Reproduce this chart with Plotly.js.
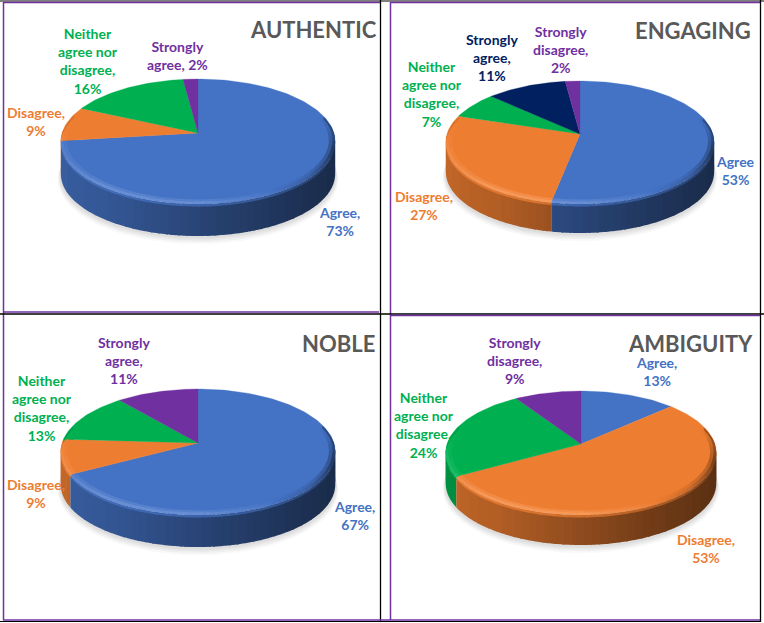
<!DOCTYPE html>
<html><head><meta charset="utf-8">
<script src="https://cdn.plot.ly/plotly-3.0.1.min.js"></script>
<style>html,body{margin:0;padding:0;background:#fff}#c{width:764px;height:623px}</style>
</head><body><div id="c"></div>
<script>
// ---- data ----
const panelTitles = ["AUTHENTIC", "ENGAGING", "NOBLE", "AMBIGUITY"];
const authenticCats = ["Agree", "Disagree", "Neither agree nor disagree", "Strongly agree"];
const authenticVals = [73, 9, 16, 2];
const engagingCats = ["Agree", "Disagree", "Neither agree nor disagree", "Strongly agree", "Strongly disagree"];
const engagingVals = [53, 27, 7, 11, 2];
const nobleCats = ["Agree", "Disagree", "Neither agree nor disagree", "Strongly agree"];
const nobleVals = [67, 9, 13, 11];
const ambiguityCats = ["Agree", "Disagree", "Neither agree nor disagree", "Strongly disagree"];
const ambiguityVals = [13, 53, 24, 9];

// ---- styles and layout, kept apart from the data ----
const authenticColors = ["#4472c4", "#ed7d31", "#00b050", "#7030a0"];
const engagingColors = ["#4472c4", "#ed7d31", "#00b050", "#002060", "#7030a0"];
const nobleColors = ["#4472c4", "#ed7d31", "#00b050", "#7030a0"];
const ambiguityColors = ["#4472c4", "#ed7d31", "#00b050", "#7030a0"];

const panels = [
  {cats: authenticCats, vals: authenticVals, cols: authenticColors, cx: 198, cy: 133, rx: 136, up: 54, down: 70, depth: 33, tx: 313, ty: 29,
   lx: [339, 36, 88, 177], ly: [221, 121, 61, 55],
   wrap: [["Agree,", "%"], ["Disagree,", "%"], ["Neither", "agree nor", "disagree,", "%"], ["Strongly", "agree, %"]]},
  {cats: engagingCats, vals: engagingVals, cols: engagingColors, cx: 580, cy: 134, rx: 133, up: 53, down: 69, depth: 30, tx: 693, ty: 30,
   lx: [735, 424, 432, 492, 560], ly: [170, 205, 94, 57, 49],
   wrap: [["Agree", "%"], ["Disagree,", "%"], ["Neither", "agree nor", "disagree,", "%"], ["Strongly", "agree,", "%"], ["Strongly", "disagree,", "%"]]},
  {cats: nobleCats, vals: nobleVals, cols: nobleColors, cx: 198, cy: 443, rx: 136, up: 54, down: 71, depth: 33, tx: 338, ty: 343,
   lx: [354, 36, 42, 124], ly: [515, 493, 408, 360],
   wrap: [["Agree,", "%"], ["Disagree,", "%"], ["Neither", "agree nor", "disagree,", "%"], ["Strongly", "agree,", "%"]]},
  {cats: ambiguityCats, vals: ambiguityVals, cols: ambiguityColors, cx: 581, cy: 444, rx: 134, up: 53, down: 70, depth: 31, tx: 690, ty: 343,
   lx: [656, 706, 424, 514], ly: [371, 548, 425, 360],
   wrap: [["Agree,", "%"], ["Disagree,", "%"], ["Neither", "agree nor", "disagree,", "%"], ["Strongly", "disagree,", "%"]]}
];

const FONT = "Lato, Carlito, 'Open Sans', sans-serif";
const STEP = Math.PI / 120;
const lerp = (a, b, t) => a + (b - a) * t;
const clamp = (v, a, b) => Math.max(a, Math.min(b, v));
function pw(x, xs, ys) {
  for (let i = 1; i < xs.length; i++) if (x <= xs[i]) return lerp(ys[i - 1], ys[i], (x - xs[i - 1]) / (xs[i] - xs[i - 1]));
  return ys[ys.length - 1];
}
function rgb(h) { return [1, 3, 5].map(i => parseInt(h.substr(i, 2), 16)); }
function shade(h, f) {
  const c = rgb(h).map(v => f <= 1 ? v * f : v + (255 - v) * (f - 1) * 1.3 + v * (f - 1) * 0.2);
  return "rgb(" + c.map(v => Math.round(clamp(v, 0, 255))).join(",") + ")";
}
const q = f => Math.round(f * 80) / 80;

const traces = [];
function poly(group, color, pts) {
  if (!group[color]) group[color] = {x: [], y: []};
  pts.forEach(p => { group[color].x.push(p[0]); group[color].y.push(p[1]); });
  group[color].x.push(pts[0][0], null);
  group[color].y.push(pts[0][1], null);
}
function flush(group, width) {
  Object.keys(group).forEach(c => traces.push({
    type: "scatter", mode: "lines", x: group[c].x, y: group[c].y, fill: "toself", fillcolor: c,
    line: {color: c, width: width}, hoverinfo: "skip", showlegend: false
  }));
}

panels.forEach(P => {
  const d = (P.up + P.down) / (P.down - P.up), g = P.up * (d + 1);
  const proj = (th, r, dz) => {
    const X = r * Math.sin(th), Y = r * Math.cos(th), k = d / (d + Y);
    return [P.cx + P.rx * X * k, P.cy - g * Y / (d + Y) + (dz || 0)];
  };
  // soft ground shadow
  [[9, 0.045], [7, 0.06], [5, 0.07], [3, 0.08]].forEach(s => {
    const pts = [];
    for (let t = 0; t <= 2 * Math.PI + 1e-6; t += STEP * 2) {
      const p = proj(t, 1, P.depth + s[0] * 0.6);
      pts.push([p[0] + Math.sin(t) * s[0] * 0.35, p[1] - Math.cos(t) * s[0] * 0.3]);
    }
    traces.push({type: "scatter", mode: "lines", x: pts.map(p => p[0]), y: pts.map(p => p[1]), fill: "toself",
      fillcolor: "rgba(110,110,110," + s[1] + ")", line: {width: 0}, hoverinfo: "skip", showlegend: false});
  });
  const total = P.vals.reduce((a, b) => a + b, 0);
  const band = [{}, {}, {}], top = {}, walls = [];
  let start = 0;
  P.vals.forEach((v, i) => {
    const a0 = start, a1 = start + v / total * 2 * Math.PI;
    start = a1;
    const col = P.cols[i];
    const n = Math.max(2, Math.ceil((a1 - a0) / STEP));
    const rim = [];
    for (let k = 0; k <= n; k++) rim.push(lerp(a0, a1, k / n));
    poly(top, col, [proj(0, 0)].concat(rim.map(t => proj(t, 1))));
    const side = {};
    let minY = 2;
    for (let k = 0; k < n; k++) {
      const t0 = rim[k], tm = (t0 + rim[k + 1]) / 2, X = Math.sin(tm), Y = Math.cos(tm);
      // each quad reaches a little over the next, which is painted on top, so no seams show
      const t1 = k === n - 1 ? rim[k + 1] : rim[k + 1] + STEP * 0.5;
      if (Y > 0.3) continue;
      minY = Math.min(minY, Y);
      const s = pw(X, [-1, -0.5, 0, 0.5, 0.85, 1], [0.82, 0.74, 0.6, 0.47, 0.4, 0.38]);
      const h = pw(X, [-1, -0.6, 0, 0.45, 0.75, 0.92, 1], [1.06, 1.14, 1.14, 1.03, 0.85, 0.6, 0.45]);
      const w = clamp((0.3 - Y) / 0.55, 0, 1);
      const fOut = lerp(1, h, w), fMid = lerp(1, lerp(1, h, 0.5), w);
      poly(side, shade(col, q(s)), [proj(t0, 1, 2), proj(t1, 1, 2), proj(t1, 1, P.depth), proj(t0, 1, P.depth)]);
      poly(band[0], shade(col, q(fMid)), [proj(t0, 0.955), proj(t1, 0.955), proj(t1, 0.98), proj(t0, 0.98)]);
      poly(band[1], shade(col, q(fOut)), [proj(t0, 0.98), proj(t1, 0.98), proj(t1, 1, 1), proj(t0, 1, 1)]);
      poly(band[2], shade(col, q(lerp(fOut, s, 0.5))), [proj(t0, 1, 1), proj(t1, 1, 1), proj(t1, 1, 3.5), proj(t0, 1, 3.5)]);
    }
    if (minY < 2) walls.push({minY, side});
  });
  // walls nearest the viewer are painted last
  walls.sort((a, b) => b.minY - a.minY).forEach(W => flush(W.side, 0));
  flush(top, 0.3);
  band.forEach(b => flush(b, 0));
});

const annotations = [];
panels.forEach((P, pi) => {
  annotations.push({xref: "x", yref: "y", x: P.tx, y: P.ty, text: "<b>" + panelTitles[pi] + "</b>", showarrow: false,
    xanchor: "center", yanchor: "middle", font: {family: FONT, size: 22, color: "#595959"}});
  P.vals.forEach((v, i) => {
    const text = P.wrap[i].map(s => s.replace("%", v + "%")).join("<br>");
    annotations.push({xref: "x", yref: "y", x: P.lx[i], y: P.ly[i], text: "<b>" + text + "</b>", showarrow: false,
      xanchor: "center", yanchor: "middle", align: "center", borderpad: 0, font: {family: FONT, size: 14, color: P.cols[i]}});
  });
});

const BLACK = "#000000", PURPLE = "#7030a0";
const seg = (x0, y0, x1, y1, c, w) => ({type: "line", xref: "x", yref: "y", x0, y0, x1, y1, line: {color: c, width: w}});
const shapes = [
  seg(0, 1, 764, 1, BLACK, 1.2), seg(3, 2.5, 380, 2.5, PURPLE, 1.5), seg(390, 2.5, 760, 2.5, PURPLE, 1.5),
  seg(3.5, 2, 3.5, 620, PURPLE, 1.5), seg(390.5, 2, 390.5, 620, PURPLE, 1.5),
  seg(380.5, 0, 380.5, 622, BLACK, 1.3), seg(760.5, 0, 760.5, 622, BLACK, 1.3),
  seg(3, 312, 379, 312, PURPLE, 1.3), seg(0, 314, 764, 314, BLACK, 1.3), seg(390, 315.5, 760, 315.5, PURPLE, 1.3),
  seg(3, 620, 760, 620, PURPLE, 1.3), seg(0, 621.5, 760, 621.5, BLACK, 1)
];

Plotly.newPlot("c", traces, {
  width: 764, height: 623, margin: {l: 0, r: 0, t: 0, b: 0}, paper_bgcolor: "#fff", plot_bgcolor: "#fff",
  showlegend: false, hovermode: false, annotations, shapes,
  xaxis: {range: [0, 764], visible: false, fixedrange: true},
  yaxis: {range: [623, 0], visible: false, fixedrange: true}
}, {displayModeBar: false, staticPlot: true});
</script></body></html>
